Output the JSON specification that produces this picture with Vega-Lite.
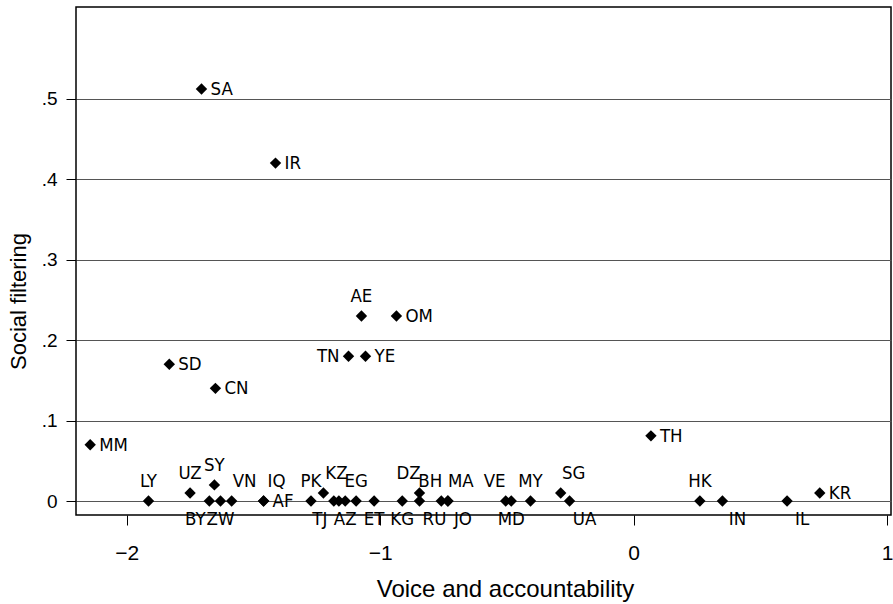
{
  "$schema": "https://vega.github.io/schema/vega-lite/v6.json",
  "autosize": "none",
  "width": 815,
  "height": 508,
  "padding": {"left": 76, "top": 7, "right": 2, "bottom": 89},
  "background": "white",
  "config": {
    "view": {"stroke": "#000", "strokeWidth": 1.5},
    "axis": {"domain": false, "tickColor": "#000", "tickSize": 10, "labelColor": "#000", "titleColor": "#000", "titleFontWeight": "normal"}
  },
  "data": {"values": [
    {"code": "SA", "voice": -1.705, "filter": 0.512, "lab": "right"},
    {"code": "IR", "voice": -1.413, "filter": 0.42, "lab": "right"},
    {"code": "AE", "voice": -1.074, "filter": 0.23, "lab": "above"},
    {"code": "OM", "voice": -0.936, "filter": 0.23, "lab": "right"},
    {"code": "TN", "voice": -1.125, "filter": 0.18, "lab": "left"},
    {"code": "YE", "voice": -1.058, "filter": 0.18, "lab": "right"},
    {"code": "SD", "voice": -1.832, "filter": 0.17, "lab": "right"},
    {"code": "CN", "voice": -1.65, "filter": 0.14, "lab": "right"},
    {"code": "MM", "voice": -2.144, "filter": 0.07, "lab": "right"},
    {"code": "TH", "voice": 0.068, "filter": 0.081, "lab": "right"},
    {"code": "LY", "voice": -1.914, "filter": 0, "lab": "above"},
    {"code": "UZ", "voice": -1.75, "filter": 0.01, "lab": "above"},
    {"code": "SY", "voice": -1.654, "filter": 0.02, "lab": "above"},
    {"code": "BY", "voice": -1.674, "filter": 0, "lab": "belowleft"},
    {"code": "ZW", "voice": -1.63, "filter": 0, "lab": "below"},
    {"code": "VN", "voice": -1.586, "filter": 0, "lab": "aboveright"},
    {"code": "IQ", "voice": -1.46, "filter": 0, "lab": "aboveright"},
    {"code": "AF", "voice": -1.46, "filter": 0, "lab": "right"},
    {"code": "PK", "voice": -1.273, "filter": 0, "lab": "above"},
    {"code": "KZ", "voice": -1.224, "filter": 0.01, "lab": "aboveright"},
    {"code": "TJ", "voice": -1.183, "filter": 0, "lab": "belowleft"},
    {"code": "AZ", "voice": -1.138, "filter": 0, "lab": "below"},
    {"code": "XX1", "voice": -1.163, "filter": 0, "lab": "none"},
    {"code": "EG", "voice": -1.095, "filter": 0, "lab": "above"},
    {"code": "ET", "voice": -1.024, "filter": 0, "lab": "below"},
    {"code": "KG", "voice": -0.913, "filter": 0, "lab": "below"},
    {"code": "DZ", "voice": -0.845, "filter": 0.01, "lab": "aboveleft"},
    {"code": "RU", "voice": -0.845, "filter": 0, "lab": "belowright"},
    {"code": "BH", "voice": -0.759, "filter": 0, "lab": "aboveleft"},
    {"code": "MA", "voice": -0.733, "filter": 0, "lab": "aboveright"},
    {"code": "JO", "voice": -0.733, "filter": 0, "lab": "belowright"},
    {"code": "VE", "voice": -0.505, "filter": 0, "lab": "aboveleft"},
    {"code": "MD", "voice": -0.483, "filter": 0, "lab": "below"},
    {"code": "MY", "voice": -0.407, "filter": 0, "lab": "above"},
    {"code": "SG", "voice": -0.288, "filter": 0.01, "lab": "aboveright"},
    {"code": "UA", "voice": -0.253, "filter": 0, "lab": "belowright"},
    {"code": "HK", "voice": 0.261, "filter": 0, "lab": "above"},
    {"code": "IN", "voice": 0.35, "filter": 0, "lab": "belowright"},
    {"code": "IL", "voice": 0.605, "filter": 0, "lab": "belowright"},
    {"code": "KR", "voice": 0.734, "filter": 0.01, "lab": "right"}
  ]},
  "encoding": {
    "x": {"field": "voice", "type": "quantitative",
      "scale": {"domain": [-2.2, 1.015], "nice": false, "zero": false},
      "axis": {"values": [-2, -1, 0, 1], "grid": false, "title": "Voice and accountability",
        "labelFont": "Liberation Sans", "labelFontSize": 21, "labelPadding": 17,
        "titleFont": "Liberation Sans", "titleFontSize": 24, "titlePadding": 14, "titleX": 429}},
    "y": {"field": "filter", "type": "quantitative",
      "scale": {"domain": [-0.0174, 0.614], "nice": false, "zero": false},
      "axis": {"values": [0, 0.1, 0.2, 0.3, 0.4, 0.5], "grid": true, "gridColor": "#555", "gridWidth": 1.2,
        "labelExpr": "datum.value == 0 ? '0' : replace(format(datum.value, '.1f'), '0.', '.')",
        "title": "Social filtering", "labelFont": "Liberation Sans", "labelFontSize": 19, "labelPadding": 9,
        "titleFont": "Liberation Sans", "titleFontSize": 22, "titlePadding": 11, "titleY": 294}}
  },
  "layer": [
    {"mark": {"type": "point", "shape": "diamond", "filled": true, "color": "#000", "opacity": 1, "size": 130}},
    {"transform": [{"filter": "datum.lab == 'right'"}],
     "mark": {"type": "text", "align": "left", "baseline": "middle", "dx": 9, "font": "DejaVu Sans Condensed, Liberation Sans", "fontSize": 18.5, "color": "#000"},
     "encoding": {"text": {"field": "code"}}},
    {"transform": [{"filter": "datum.lab == 'left'"}],
     "mark": {"type": "text", "align": "right", "baseline": "middle", "dx": -9, "font": "DejaVu Sans Condensed, Liberation Sans", "fontSize": 18.5, "color": "#000"},
     "encoding": {"text": {"field": "code"}}},
    {"transform": [{"filter": "datum.lab == 'above'"}],
     "mark": {"type": "text", "align": "center", "baseline": "middle", "dy": -20, "font": "DejaVu Sans Condensed, Liberation Sans", "fontSize": 18.5, "color": "#000"},
     "encoding": {"text": {"field": "code"}}},
    {"transform": [{"filter": "datum.lab == 'aboveright'"}],
     "mark": {"type": "text", "align": "center", "baseline": "middle", "dx": 13, "dy": -20, "font": "DejaVu Sans Condensed, Liberation Sans", "fontSize": 18.5, "color": "#000"},
     "encoding": {"text": {"field": "code"}}},
    {"transform": [{"filter": "datum.lab == 'aboveleft'"}],
     "mark": {"type": "text", "align": "center", "baseline": "middle", "dx": -11, "dy": -20, "font": "DejaVu Sans Condensed, Liberation Sans", "fontSize": 18.5, "color": "#000"},
     "encoding": {"text": {"field": "code"}}},
    {"transform": [{"filter": "datum.lab == 'below'"}],
     "mark": {"type": "text", "align": "center", "baseline": "middle", "dy": 18, "font": "DejaVu Sans Condensed, Liberation Sans", "fontSize": 18.5, "color": "#000"},
     "encoding": {"text": {"field": "code"}}},
    {"transform": [{"filter": "datum.lab == 'belowright'"}],
     "mark": {"type": "text", "align": "center", "baseline": "middle", "dx": 15, "dy": 18, "font": "DejaVu Sans Condensed, Liberation Sans", "fontSize": 18.5, "color": "#000"},
     "encoding": {"text": {"field": "code"}}},
    {"transform": [{"filter": "datum.lab == 'belowleft'"}],
     "mark": {"type": "text", "align": "center", "baseline": "middle", "dx": -14, "dy": 18, "font": "DejaVu Sans Condensed, Liberation Sans", "fontSize": 18.5, "color": "#000"},
     "encoding": {"text": {"field": "code"}}}
  ]
}
